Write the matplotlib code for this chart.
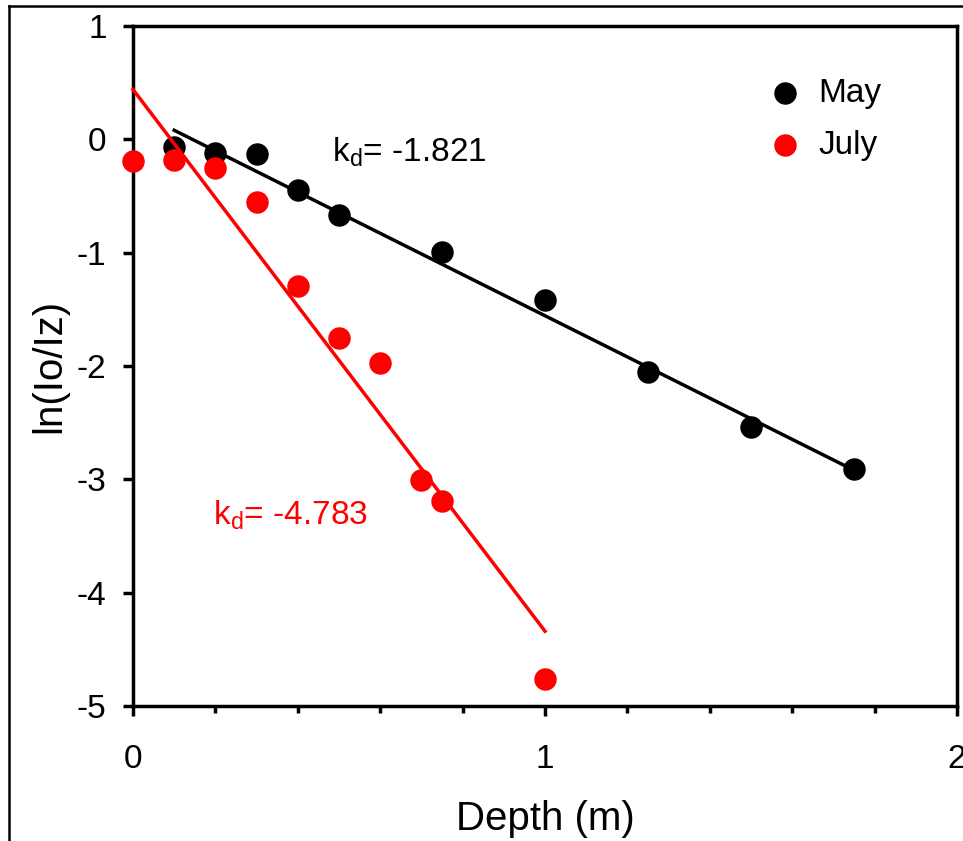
import numpy as np
import matplotlib.pyplot as plt
from matplotlib.lines import Line2D
from matplotlib.ticker import MultipleLocator

plt.rcParams['font.family'] = ['Liberation Sans', 'DejaVu Sans']
plt.rcParams['mathtext.fontset'] = 'custom'
plt.rcParams['mathtext.rm'] = 'Liberation Sans'
plt.rcParams['mathtext.it'] = 'Liberation Sans'
plt.rcParams['axes.unicode_minus'] = False

#-- measured points
depthMay = [0.1, 0.2, 0.3, 0.4, 0.5, 0.75, 1.0, 1.25, 1.5, 1.75]
lnMay = [-0.07, -0.12, -0.13, -0.45, -0.67, -0.99, -1.42, -2.05, -2.54, -2.91]
depthJuly = [0.0, 0.1, 0.2, 0.3, 0.4, 0.5, 0.6, 0.7, 0.75, 1.0]
lnJuly = [-0.19, -0.18, -0.25, -0.55, -1.29, -1.75, -1.97, -3.01, -3.19, -4.76]

#-- regression lines (end points)
fitMayX = [0.1, 1.75]
fitMayY = [0.08, -2.92]
fitJulyX = [0.0, 1.0]
fitJulyY = [0.44, -4.34]

kdMay = '-1.821'
kdJuly = '-4.783'

fig = plt.figure(figsize=(9.63, 8.41), dpi=100)
ax = fig.add_axes([133/963, 1-706/841, (957-133)/963, (706-26)/841])

ax.scatter(depthMay, lnMay, s=230, color='black', zorder=3, clip_on=False, label='May')
ax.scatter(depthJuly, lnJuly, s=230, color='#ff0000', zorder=4, clip_on=False, label='July')
ax.plot(fitMayX, fitMayY, color='black', lw=2.5, zorder=5, clip_on=False)
ax.plot(fitJulyX, fitJulyY, color='#ff0000', lw=2.5, zorder=5, clip_on=False)

ax.text(0.482, -0.20, r'k$_{\mathrm{d}}$= ' + kdMay, fontsize=24, color='black', va='baseline')
ax.text(0.194, -3.40, r'k$_{\mathrm{d}}$= ' + kdJuly, fontsize=24, color='#ff0000', va='baseline')

ax.set_xlim(0, 2)
ax.set_ylim(-5, 1)
ax.xaxis.set_major_locator(MultipleLocator(1))
ax.xaxis.set_minor_locator(MultipleLocator(0.2))
ax.yaxis.set_major_locator(MultipleLocator(1))
ax.tick_params(axis='x', which='major', direction='out', length=7, width=2.5, pad=20, labelsize=24)
ax.tick_params(axis='x', which='minor', direction='out', length=5, width=2.5)
ax.tick_params(axis='y', which='major', direction='out', length=7, width=2.5, pad=12, labelsize=24)
for sp in ax.spines.values():
    sp.set_linewidth(2.5)

ax.set_xlabel('Depth (m)', fontsize=29, labelpad=18)
ax.set_ylabel('ln(Io/Iz)', fontsize=29, labelpad=6)

leg = ax.legend(loc='upper right', bbox_to_anchor=(0.945, 0.968), frameon=False, fontsize=24,
                handlelength=1.0, handletextpad=0.5, labelspacing=0.64, markerscale=1.0)

#-- outer frame of the figure
fig.add_artist(Line2D([9/963, 9/963], [0, 1-5.5/841], color='black', lw=1.8, transform=fig.transFigure))
fig.add_artist(Line2D([9/963, 1], [1-5.5/841, 1-5.5/841], color='black', lw=1.8, transform=fig.transFigure))

plt.savefig('out.png', dpi=100)
